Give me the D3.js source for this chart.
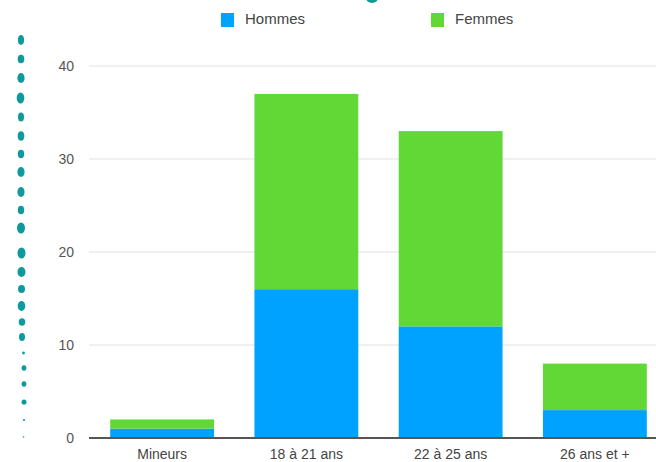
<!DOCTYPE html>
<meta charset="utf-8">
<html>
<script src="https://d3js.org/d3.v7.min.js"></script>
<style>
  body { margin: 0; background: #fff; }
  text { font-family: "Liberation Sans", Arial, sans-serif; }
</style>
<div id="chart"></div>
<script>

// data
var categories = ["Mineurs", "18 à 21 ans", "22 à 25 ans", "26 ans et +"];
var hommes = [1, 16, 12, 3];
var femmes = [1, 21, 21, 5];
var seriesNames = ["Hommes", "Femmes"];
var yTicks = [0, 10, 20, 30, 40];

var colors = { "Hommes": "#00a2ff", "Femmes": "#62d836" };

var width = 656,
    height = 462;

var svg = d3.select("#chart")
  .append("svg")
    .attr("width", width)
    .attr("height", height);

var x = d3.scaleBand()
  .domain(categories)
  .range([90, 667])
  .paddingInner(0.28)
  .paddingOuter(0.14);

var y = d3.scaleLinear()
  .domain([0, 40])
  .range([438, 66]);

// rows for the stack
var rows = categories.map(function(c, i) {
  return { cat: c, Hommes: hommes[i], Femmes: femmes[i] };
});
var stacked = d3.stack().keys(seriesNames)(rows);

// gridlines
svg.append("g")
  .selectAll("line")
  .data(yTicks.filter(function(d) { return d > 0; }))
  .enter().append("line")
    .attr("x1", 89)
    .attr("x2", width)
    .attr("y1", function(d) { return y(d); })
    .attr("y2", function(d) { return y(d); })
    .attr("stroke", "#e2e2e2")
    .attr("stroke-width", 1.2);

// y tick labels
svg.append("g")
  .selectAll("text")
  .data(yTicks)
  .enter().append("text")
    .attr("x", 74)
    .attr("y", function(d) { return y(d); })
    .attr("dy", "0.35em")
    .attr("text-anchor", "end")
    .attr("font-size", "14px")
    .attr("fill", "#555")
    .text(function(d) { return d; });

// bars
svg.append("g")
  .selectAll("g")
  .data(stacked)
  .enter().append("g")
    .attr("fill", function(d) { return colors[d.key]; })
  .selectAll("rect")
  .data(function(d) { return d; })
  .enter().append("rect")
    .attr("x", function(d) { return x(d.data.cat); })
    .attr("width", x.bandwidth())
    .attr("y", function(d) { return y(d[1]); })
    .attr("height", function(d) { return y(d[0]) - y(d[1]); });

// baseline
svg.append("line")
  .attr("x1", 89)
  .attr("x2", width)
  .attr("y1", y(0))
  .attr("y2", y(0))
  .attr("stroke", "#555")
  .attr("stroke-width", 2);

// category labels
svg.append("g")
  .selectAll("text")
  .data(categories)
  .enter().append("text")
    .attr("x", function(d) { return x(d) + x.bandwidth() / 2; })
    .attr("y", 454)
    .attr("dy", "0.35em")
    .attr("text-anchor", "middle")
    .attr("font-size", "14px")
    .attr("fill", "#444")
    .text(function(d) { return d; });

// legend
var legendX = { "Hommes": 221, "Femmes": 431 };
var legend = svg.selectAll(".legend")
  .data(seriesNames)
  .enter().append("g")
    .attr("class", "legend")
    .attr("transform", function(d) { return "translate(" + legendX[d] + ",0)"; });

legend.append("rect")
  .attr("x", 0)
  .attr("y", 13)
  .attr("width", 13)
  .attr("height", 14)
  .attr("fill", function(d) { return colors[d]; });

legend.append("text")
  .attr("x", 24)
  .attr("y", 19)
  .attr("dy", "0.35em")
  .attr("font-size", "15px")
  .attr("fill", "#444")
  .text(function(d) { return d; });

// decoration: teal dotted stroke on the left and the cut-off title mark
var dots = [
  [40, 21, 3.2, 5], [59, 21, 3.3, 4.3], [78, 21, 3.6, 5], [98, 20.5, 3.8, 5.5],
  [117, 21, 3, 4.5], [136, 21, 3.4, 4.8], [154, 21, 3.2, 4.2], [172, 21, 3.6, 5],
  [192, 21, 3.6, 5], [210, 21, 3.2, 4.3], [228, 21, 4, 5.5],
  [253, 21.5, 4, 5.5], [272, 21.5, 4, 5], [289, 21.5, 3.5, 4], [306, 21.5, 3.8, 5],
  [322, 22, 3.3, 3.8], [337, 22, 3, 4], [353, 23.5, 1.4, 1.4], [368, 24, 2.4, 2.8],
  [384, 24, 2.4, 2.8], [402, 24, 2.5, 2.6], [420, 24, 1.1, 1.1], [437, 23.5, 0.8, 0.8]
];
svg.append("g")
  .selectAll("ellipse")
  .data(dots)
  .enter().append("ellipse")
    .attr("cx", function(d) { return d[1]; })
    .attr("cy", function(d) { return d[0]; })
    .attr("rx", function(d) { return d[2]; })
    .attr("ry", function(d) { return d[3]; })
    .attr("fill", "#0e9a9c");

svg.append("ellipse")
  .attr("cx", 372)
  .attr("cy", -2)
  .attr("rx", 6)
  .attr("ry", 5)
  .attr("fill", "#0e9a9c");

</script>
</html>
